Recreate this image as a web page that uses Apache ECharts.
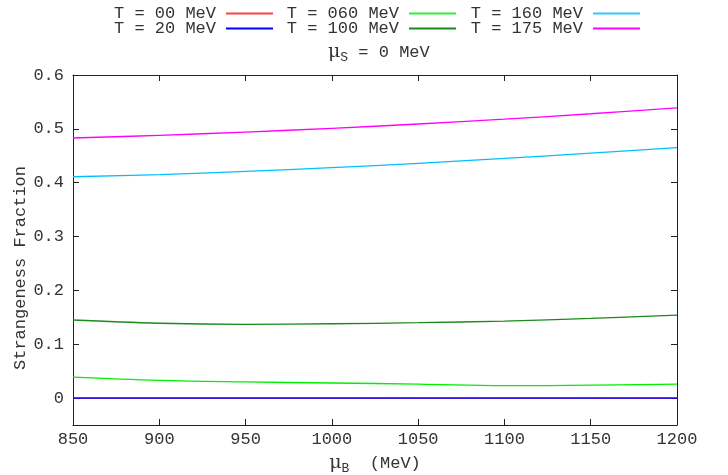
<!DOCTYPE html>
<html><head><meta charset="utf-8">
<script src="https://cdn.jsdelivr.net/npm/echarts@6/dist/echarts.min.js"></script>
<style>html,body{margin:0;padding:0;background:#fff}#c{width:728px;height:475px}</style>
</head><body><div id="c"></div>
<script>
const muB = [850, 900, 950, 1000, 1050, 1100, 1150, 1200];
const T00 = [0, 0, 0, 0, 0, 0, 0, 0];
const T20 = [0, 0, 0, 0, 0, 0, 0, 0];
const T060 = [0.039, 0.033, 0.030, 0.028, 0.026, 0.023, 0.024, 0.026];
const T100 = [0.145, 0.139, 0.137, 0.138, 0.140, 0.143, 0.148, 0.154];
const T160 = [0.411, 0.415, 0.421, 0.428, 0.436, 0.445, 0.455, 0.465];
const T175 = [0.483, 0.488, 0.494, 0.501, 0.509, 0.518, 0.528, 0.539];
const yTicks = [0, 0.1, 0.2, 0.3, 0.4, 0.5, 0.6];
const xTicks = [850, 900, 950, 1000, 1050, 1100, 1150, 1200];
const names = ['T = 00 MeV', 'T = 20 MeV', 'T = 060 MeV', 'T = 100 MeV', 'T = 160 MeV', 'T = 175 MeV'];

const FONT = '"Liberation Mono", "DejaVu Sans Mono", monospace';
const TXT = '#333';
const pairs = a => muB.map((x, i) => [x, a[i]]);
const seriesDefs = [
  {name: names[0], data: T00, color: '#ff2020', opacity: 1, width: 1.3},
  {name: names[1], data: T20, color: '#0000ff', opacity: 0.8, width: 1.6},
  {name: names[2], data: T060, color: '#00ee00', opacity: 1, width: 1.3},
  {name: names[3], data: T100, color: '#1a8a1a', opacity: 1, width: 1.3},
  {name: names[4], data: T160, color: '#00bfff', opacity: 1, width: 1.3},
  {name: names[5], data: T175, color: '#ff00ff', opacity: 1, width: 1.3}
];
const legColors = ['#ff4040', '#0000ff', '#33ee33', '#1a8a1a', '#33c4ff', '#ff00ff'];
// legend positions: [right edge of line sample, top]
const legPos = [[273, 5], [273, 20], [456, 5], [456, 20], [640, 5], [640, 20]];
const legends = names.map((n, i) => ({
  data: [{name: n, itemStyle: {color: legColors[i]}}],
  right: 728 - legPos[i][0],
  top: legPos[i][1],
  align: 'right',
  icon: 'rect',
  itemWidth: 47,
  itemHeight: 2,
  padding: 0,
  textStyle: {fontFamily: FONT, fontSize: 17, color: TXT, padding: [0, 5, 0, 0]}
}));

const axisLineStyle = {color: '#222', width: 1};
const rich = {
  m: {fontFamily: 'DejaVu Serif, serif', fontSize: 19, color: TXT, fontWeight: 'normal'},
  s: {fontFamily: FONT, fontSize: 13, color: TXT, fontWeight: 'normal', padding: [10, 0, 0, 0]},
  t: {fontFamily: FONT, fontSize: 17, color: TXT, fontWeight: 'normal'}
};

const chart = echarts.init(document.getElementById('c'), null, {renderer: 'canvas'});
chart.setOption({
  animation: false,
  backgroundColor: '#fff',
  title: {
    text: '{m|μ}{s|S}{t| = 0 MeV}',
    left: 323, top: 36,
    textStyle: {rich: rich, fontWeight: 'normal'}
  },
  legend: legends,
  grid: {left: 73, right: 51, top: 75, bottom: 50, outerBoundsMode: 'none', containLabel: false},
  xAxis: [{
    type: 'value', min: 850, max: 1200, interval: 50,
    name: '{m|μ}{s|B}{t|  (MeV)}', nameLocation: 'middle', nameGap: 27,
    nameTextStyle: {rich: rich},
    axisLine: {show: true, onZero: false, lineStyle: axisLineStyle},
    axisTick: {show: true, inside: true, length: 6, lineStyle: axisLineStyle},
    axisLabel: {fontFamily: FONT, fontSize: 17, color: TXT, margin: 6, formatter: v => String(v)},
    splitLine: {show: false}
  }, {
    type: 'value', min: 850, max: 1200, interval: 50, position: 'top',
    axisLine: {show: true, onZero: false, lineStyle: axisLineStyle},
    axisTick: {show: true, inside: true, length: 6, lineStyle: axisLineStyle},
    axisLabel: {show: false}, splitLine: {show: false}
  }],
  yAxis: [{
    type: 'value', min: -0.05, max: 0.6,
    axisLine: {show: true, onZero: false, lineStyle: axisLineStyle},
    axisTick: {show: true, inside: true, length: 6, lineStyle: axisLineStyle, customValues: yTicks},
    axisLabel: {fontFamily: FONT, fontSize: 17, color: TXT, margin: 9, customValues: yTicks,
      formatter: v => (Math.abs(v) < 1e-9 ? '0' : v.toFixed(1))},
    splitLine: {show: false}
  }, {
    type: 'value', min: -0.05, max: 0.6, position: 'right',
    axisLine: {show: true, onZero: false, lineStyle: axisLineStyle},
    axisTick: {show: true, inside: true, length: 6, lineStyle: axisLineStyle, customValues: yTicks},
    axisLabel: {show: false}, splitLine: {show: false}
  }],
  graphic: [{
    type: 'text', x: 20, y: 268, rotation: Math.PI / 2,
    style: {text: 'Strangeness Fraction', fontFamily: FONT, fontSize: 17, fill: TXT,
      align: 'center', verticalAlign: 'middle'}
  }],
  series: seriesDefs.map(s => ({
    name: s.name, type: 'line', data: pairs(s.data), smooth: 0.4,
    showSymbol: false, symbol: 'none', xAxisIndex: 0, yAxisIndex: 0,
    color: s.color,
    lineStyle: {color: s.color, width: s.width, opacity: s.opacity}
  }))
});
</script></body></html>
